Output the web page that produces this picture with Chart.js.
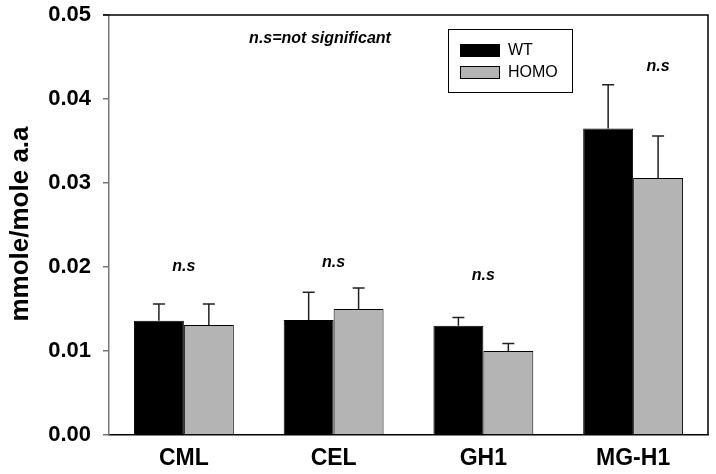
<!DOCTYPE html>
<html lang="en">
<head>
  <meta charset="UTF-8"/>
  <title>mmole/mole a.a</title>
  <style>
    body { margin: 0; padding: 0; background: #fff; }
    #wrap { width: 716px; height: 474px; position: relative; }
  </style>
</head>
<body>
<div id="wrap"><canvas id="chart"></canvas></div>

<script src="https://cdn.jsdelivr.net/npm/chart.js"></script>
<script>
const FONT = "'Liberation Sans', Arial, sans-serif";

const categories = ["CML", "CEL", "GH1", "MG-H1"];
const wtValues   = [0.0136, 0.0137, 0.0130, 0.0365];
const wtErrors   = [0.0020, 0.0033, 0.0010, 0.0052];
const homoValues = [0.0131, 0.0150, 0.0100, 0.0306];
const homoErrors = [0.0025, 0.0025, 0.0009, 0.0050];
const yTicks     = [0, 0.01, 0.02, 0.03, 0.04, 0.05];

// "n.s" labels: [category index, x shift in bars, y value]
const nsLabels = [[0, 0, 0.0201], [1, 0, 0.0205], [2, 0, 0.0190], [3, 0.5, 0.0439]];

const errorBars = {
  id: "errorBars",
  afterDatasetsDraw(chart) {
    const ctx = chart.ctx;
    const y = chart.scales.y;
    ctx.save();
    ctx.strokeStyle = "#222";
    ctx.lineWidth = 1.5;
    chart.data.datasets.forEach((ds, i) => {
      chart.getDatasetMeta(i).data.forEach((bar, j) => {
        const top = y.getPixelForValue(ds.data[j] + ds.errors[j]);
        ctx.beginPath();
        ctx.moveTo(bar.x, bar.y);
        ctx.lineTo(bar.x, top);
        ctx.moveTo(bar.x - 6, top);
        ctx.lineTo(bar.x + 6, top);
        ctx.stroke();
      });
    });
    ctx.restore();
  }
};

const extras = {
  id: "extras",
  afterDraw(chart) {
    const ctx = chart.ctx;
    const a = chart.chartArea;
    const x = chart.scales.x, y = chart.scales.y;
    ctx.save();
    // frame top / right
    ctx.strokeStyle = "#000";
    ctx.lineWidth = 1.5;
    ctx.beginPath();
    ctx.moveTo(a.left - 6, a.top);
    ctx.lineTo(a.right, a.top);
    ctx.lineTo(a.right, a.bottom);
    ctx.stroke();

    // y title
    ctx.fillStyle = "#000";
    ctx.font = "bold 26px " + FONT;
    ctx.textAlign = "center";
    ctx.textBaseline = "middle";
    ctx.translate(21, 224);
    ctx.rotate(-Math.PI / 2);
    ctx.fillText("mmole/mole a.a", 0, 0);
    ctx.setTransform(1, 0, 0, 1, 0, 0);

    // n.s labels
    const barW = chart.getDatasetMeta(0).data[0].width;
    ctx.font = "italic bold 16px " + FONT;
    nsLabels.forEach(([c, shift, v]) => {
      ctx.fillText("n.s", x.getPixelForValue(c) + shift * barW, y.getPixelForValue(v));
    });
    ctx.fillText("n.s=not significant", 320, 39);

    // legend
    ctx.lineWidth = 1;
    ctx.strokeStyle = "#000";
    ctx.strokeRect(448.5, 29.5, 124, 63);
    chart.data.datasets.forEach((ds, i) => {
      const ly = 44 + i * 22;
      ctx.fillStyle = ds.backgroundColor;
      ctx.fillRect(460.5, ly + 0.5, 39, 12);
      ctx.strokeRect(460.5, ly + 0.5, 39, 12);
      ctx.fillStyle = "#000";
      ctx.font = "16px " + FONT;
      ctx.textAlign = "left";
      ctx.fillText(ds.label, 508, ly + 7);
    });
    ctx.restore();
  }
};

new Chart(document.getElementById("chart"), {
  type: "bar",
  data: {
    labels: categories,
    datasets: [
      { label: "WT", data: wtValues, errors: wtErrors, backgroundColor: "#000000",
        borderColor: "#000", borderWidth: 1 },
      { label: "HOMO", data: homoValues, errors: homoErrors, backgroundColor: "#b4b4b4",
        borderColor: "#000", borderWidth: 1 }
    ]
  },
  options: {
    responsive: true,
    maintainAspectRatio: false,
    animation: false,
    layout: { padding: { top: 15, right: 8, left: 0, bottom: 0 } },
    datasets: { bar: { categoryPercentage: 0.667, barPercentage: 1 } },
    plugins: { legend: { display: false }, tooltip: { enabled: false } },
    scales: {
      x: {
        grid: { display: false },
        border: { color: "#000", width: 1.5 },
        ticks: { color: "#000", font: { family: FONT, size: 23, weight: "bold" }, padding: 2 },
        afterFit: s => { s.height = 39; }
      },
      y: {
        min: 0,
        max: 0.05,
        afterBuildTicks: s => { s.ticks = yTicks.map(v => ({ value: v })); },
        grid: { drawOnChartArea: false, tickLength: 6, color: "#777", lineWidth: 1.5 },
        border: { color: "#777", width: 1.5 },
        ticks: {
          color: "#000",
          font: { family: FONT, size: 22, weight: "bold" },
          padding: 12,
          callback: v => v.toFixed(2)
        },
        afterFit: s => { s.width = 109; s.paddingTop = 0; s.paddingBottom = 0; }
      }
    }
  },
  plugins: [errorBars, extras]
});
</script>
</body>
</html>
